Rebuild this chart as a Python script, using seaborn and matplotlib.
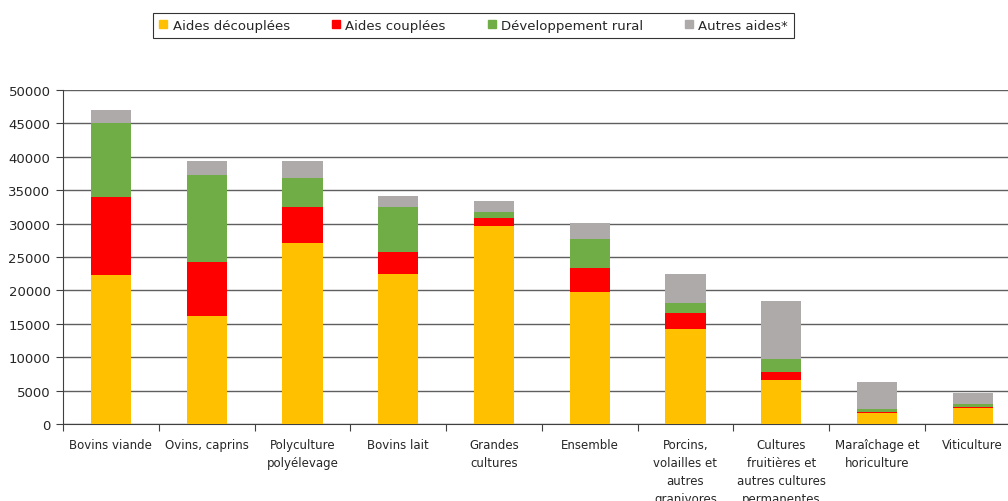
import matplotlib
matplotlib.use("Agg")
import matplotlib.pyplot as plt
import matplotlib.patches as mpatches
import numpy as np
import pandas as pd
import seaborn as sns

categories = ["Bovins viande", "Ovins, caprins", "Polyculture\npolyélevage", "Bovins lait",
              "Grandes\ncultures", "Ensemble", "Porcins,\nvolailles et\nautres\ngranivores",
              "Cultures\nfruitières et\nautres cultures\npermanentes", "Maraîchage et\nhoriculture",
              "Viticulture"]
aides_decouplees = [22300, 16200, 27100, 22450, 29650, 19750, 14200, 6600, 1650, 2350]
aides_couplees = [11700, 8050, 5400, 3300, 1200, 3600, 2400, 1200, 150, 250]
dev_rural = [11050, 13050, 4350, 6750, 900, 4350, 1500, 1950, 450, 400]
autres_aides = [1950, 2100, 2550, 1650, 1650, 2400, 4350, 8650, 4050, 1650]

series = ["Aides découplées", "Aides couplées", "Développement rural", "Autres aides*"]
colors = ["#FFC000", "#FF0000", "#70AD47", "#AEAAAA"]

df = pd.DataFrame({"cat": categories, series[0]: aides_decouplees, series[1]: aides_couplees,
                   series[2]: dev_rural, series[3]: autres_aides})
cum = df[series].cumsum(axis=1)

sns.set_style("white")
plt.rcParams["font.family"] = ["DejaVu Sans"]

fig = plt.figure(figsize=(10.08, 5.02), dpi=100)
ax = fig.add_axes([0.0625, 0.1534, 0.95, 0.6653])

# draw stacked bars as overlapping cumulative totals, top layer first
for s, c in zip(series[::-1], colors[::-1]):
    sns.barplot(x=df["cat"], y=cum[s], color=c, width=0.42, saturation=1, ax=ax,
                zorder=3, linewidth=0, edgecolor="none")

ax.set_ylim(0, 50000)
ax.set_xlim(-0.5, len(categories) - 0.5)
ax.set_yticks(np.arange(0, 50001, 5000))
ax.yaxis.grid(True, color="#5f5f5f", lw=1, zorder=0)
ax.set_axisbelow(True)
ax.set_xlabel("")
ax.set_ylabel("")
for sp in ["top", "right"]:
    ax.spines[sp].set_visible(False)
ax.spines["left"].set_color("#404040")
ax.spines["bottom"].set_color("#404040")

ax.set_xticks(np.arange(-0.5, len(categories), 1), minor=False)
ax.set_xticklabels([])
ax.set_xticks(np.arange(len(categories)), minor=True)
ax.set_xticklabels(categories, minor=True, fontsize=8.5, linespacing=1.5,
                   va="top", family=["Liberation Sans Narrow", "DejaVu Sans"])
ax.tick_params(axis="x", which="major", length=5, color="#404040", direction="out", bottom=True)
ax.tick_params(axis="x", which="minor", length=0, pad=10, bottom=True)
ax.tick_params(axis="y", length=5, color="#404040", direction="out", left=True,
               labelsize=9.5, pad=4)

handles = [mpatches.Patch(color=c, label=s) for s, c in zip(series, colors)]
leg = fig.legend(handles=handles, loc="center", bbox_to_anchor=(0.47, 0.948), ncol=4,
                 frameon=True, fancybox=False, fontsize=9.5, handlelength=0.6,
                 handleheight=0.6, handletextpad=0.4, columnspacing=3.2,
                 borderpad=0.45)
leg.get_frame().set_edgecolor("black")
leg.get_frame().set_linewidth(0.8)

fig.savefig("out.png", dpi=100)
